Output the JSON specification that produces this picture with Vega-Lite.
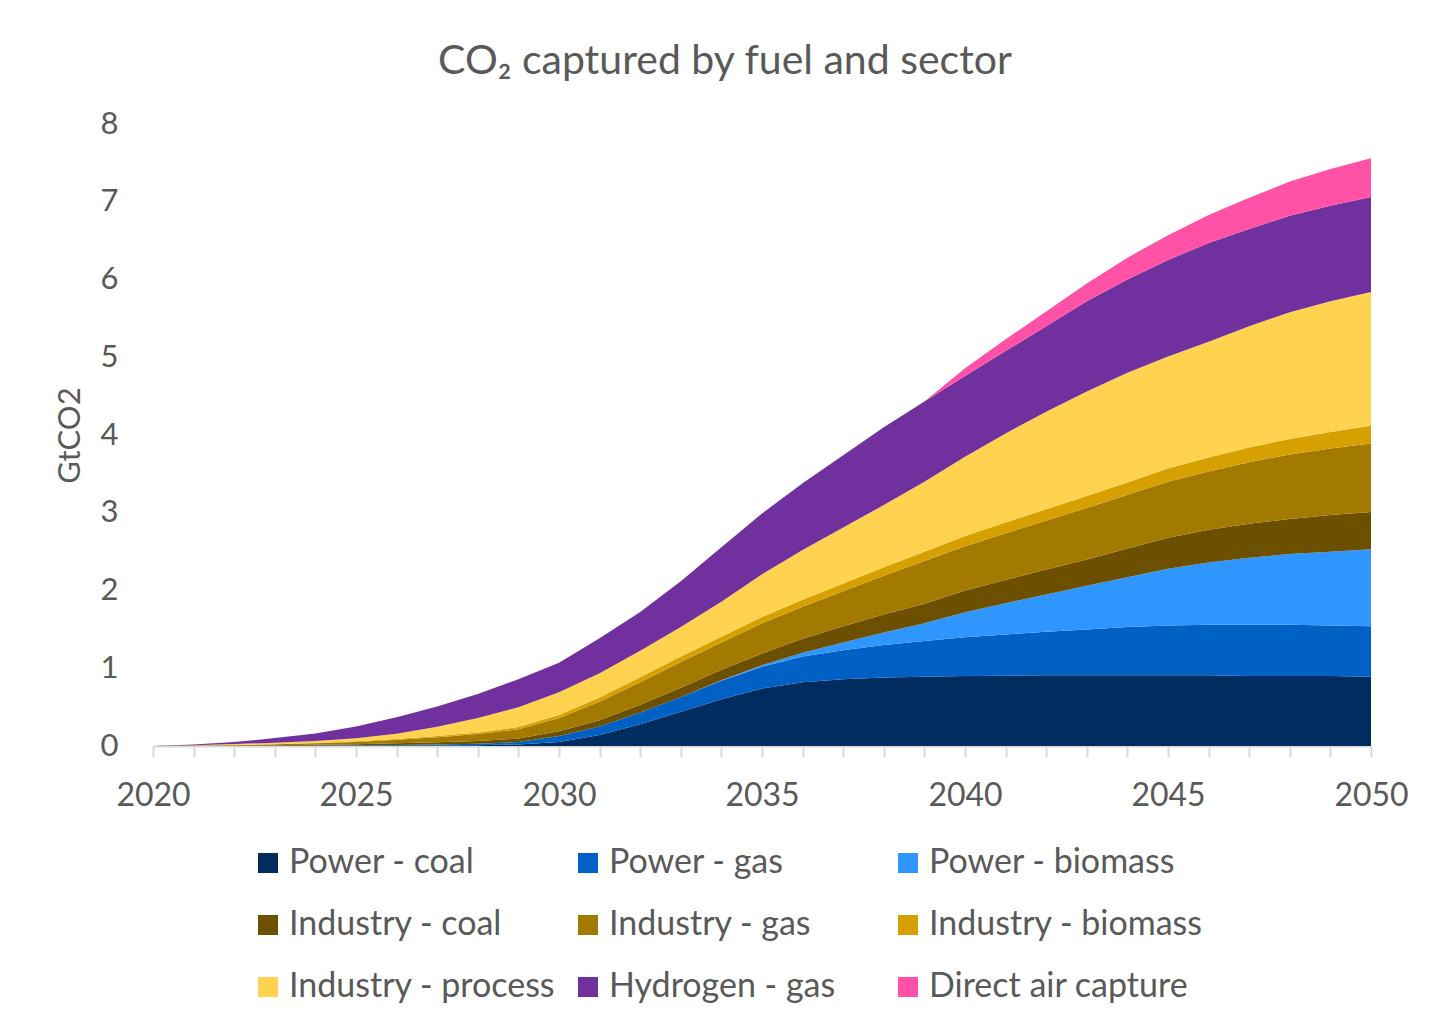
{
  "$schema": "https://vega.github.io/schema/vega-lite/v6.json",
  "autosize": {"type": "none"},
  "width": 1218,
  "height": 622,
  "padding": {"left": 153, "top": 124, "right": 66, "bottom": 278},
  "background": "white",
  "title": {
    "text": "CO₂ captured by fuel and sector",
    "font": "Lato",
    "fontSize": 41,
    "fontWeight": "normal",
    "color": "#595959",
    "anchor": "middle",
    "offset": 25,
    "dx": -37
  },
  "config": {
    "view": {"stroke": null},
    "font": "Lato"
  },
  "data": {
    "values": [
      {"year": 2020, "series": "Power - coal", "value": 0},
      {"year": 2021, "series": "Power - coal", "value": 0},
      {"year": 2022, "series": "Power - coal", "value": 0},
      {"year": 2023, "series": "Power - coal", "value": 0},
      {"year": 2024, "series": "Power - coal", "value": 0.002},
      {"year": 2025, "series": "Power - coal", "value": 0.004},
      {"year": 2026, "series": "Power - coal", "value": 0.006},
      {"year": 2027, "series": "Power - coal", "value": 0.008},
      {"year": 2028, "series": "Power - coal", "value": 0.01},
      {"year": 2029, "series": "Power - coal", "value": 0.02},
      {"year": 2030, "series": "Power - coal", "value": 0.05},
      {"year": 2031, "series": "Power - coal", "value": 0.14},
      {"year": 2032, "series": "Power - coal", "value": 0.28},
      {"year": 2033, "series": "Power - coal", "value": 0.44},
      {"year": 2034, "series": "Power - coal", "value": 0.6},
      {"year": 2035, "series": "Power - coal", "value": 0.74},
      {"year": 2036, "series": "Power - coal", "value": 0.82},
      {"year": 2037, "series": "Power - coal", "value": 0.86},
      {"year": 2038, "series": "Power - coal", "value": 0.88},
      {"year": 2039, "series": "Power - coal", "value": 0.89},
      {"year": 2040, "series": "Power - coal", "value": 0.9},
      {"year": 2041, "series": "Power - coal", "value": 0.905},
      {"year": 2042, "series": "Power - coal", "value": 0.91},
      {"year": 2043, "series": "Power - coal", "value": 0.91},
      {"year": 2044, "series": "Power - coal", "value": 0.91},
      {"year": 2045, "series": "Power - coal", "value": 0.91},
      {"year": 2046, "series": "Power - coal", "value": 0.91},
      {"year": 2047, "series": "Power - coal", "value": 0.9},
      {"year": 2048, "series": "Power - coal", "value": 0.9},
      {"year": 2049, "series": "Power - coal", "value": 0.9},
      {"year": 2050, "series": "Power - coal", "value": 0.89},

      {"year": 2020, "series": "Power - gas", "value": 0},
      {"year": 2021, "series": "Power - gas", "value": 0},
      {"year": 2022, "series": "Power - gas", "value": 0},
      {"year": 2023, "series": "Power - gas", "value": 0.002},
      {"year": 2024, "series": "Power - gas", "value": 0.003},
      {"year": 2025, "series": "Power - gas", "value": 0.005},
      {"year": 2026, "series": "Power - gas", "value": 0.008},
      {"year": 2027, "series": "Power - gas", "value": 0.012},
      {"year": 2028, "series": "Power - gas", "value": 0.018},
      {"year": 2029, "series": "Power - gas", "value": 0.03},
      {"year": 2030, "series": "Power - gas", "value": 0.08},
      {"year": 2031, "series": "Power - gas", "value": 0.11},
      {"year": 2032, "series": "Power - gas", "value": 0.15},
      {"year": 2033, "series": "Power - gas", "value": 0.19},
      {"year": 2034, "series": "Power - gas", "value": 0.24},
      {"year": 2035, "series": "Power - gas", "value": 0.28},
      {"year": 2036, "series": "Power - gas", "value": 0.33},
      {"year": 2037, "series": "Power - gas", "value": 0.37},
      {"year": 2038, "series": "Power - gas", "value": 0.42},
      {"year": 2039, "series": "Power - gas", "value": 0.46},
      {"year": 2040, "series": "Power - gas", "value": 0.5},
      {"year": 2041, "series": "Power - gas", "value": 0.53},
      {"year": 2042, "series": "Power - gas", "value": 0.56},
      {"year": 2043, "series": "Power - gas", "value": 0.59},
      {"year": 2044, "series": "Power - gas", "value": 0.62},
      {"year": 2045, "series": "Power - gas", "value": 0.64},
      {"year": 2046, "series": "Power - gas", "value": 0.65},
      {"year": 2047, "series": "Power - gas", "value": 0.66},
      {"year": 2048, "series": "Power - gas", "value": 0.66},
      {"year": 2049, "series": "Power - gas", "value": 0.65},
      {"year": 2050, "series": "Power - gas", "value": 0.65},

      {"year": 2020, "series": "Power - biomass", "value": 0},
      {"year": 2021, "series": "Power - biomass", "value": 0},
      {"year": 2022, "series": "Power - biomass", "value": 0},
      {"year": 2023, "series": "Power - biomass", "value": 0},
      {"year": 2024, "series": "Power - biomass", "value": 0},
      {"year": 2025, "series": "Power - biomass", "value": 0},
      {"year": 2026, "series": "Power - biomass", "value": 0},
      {"year": 2027, "series": "Power - biomass", "value": 0},
      {"year": 2028, "series": "Power - biomass", "value": 0},
      {"year": 2029, "series": "Power - biomass", "value": 0},
      {"year": 2030, "series": "Power - biomass", "value": 0},
      {"year": 2031, "series": "Power - biomass", "value": 0},
      {"year": 2032, "series": "Power - biomass", "value": 0},
      {"year": 2033, "series": "Power - biomass", "value": 0},
      {"year": 2034, "series": "Power - biomass", "value": 0.005},
      {"year": 2035, "series": "Power - biomass", "value": 0.02},
      {"year": 2036, "series": "Power - biomass", "value": 0.05},
      {"year": 2037, "series": "Power - biomass", "value": 0.1},
      {"year": 2038, "series": "Power - biomass", "value": 0.16},
      {"year": 2039, "series": "Power - biomass", "value": 0.23},
      {"year": 2040, "series": "Power - biomass", "value": 0.32},
      {"year": 2041, "series": "Power - biomass", "value": 0.4},
      {"year": 2042, "series": "Power - biomass", "value": 0.48},
      {"year": 2043, "series": "Power - biomass", "value": 0.56},
      {"year": 2044, "series": "Power - biomass", "value": 0.64},
      {"year": 2045, "series": "Power - biomass", "value": 0.73},
      {"year": 2046, "series": "Power - biomass", "value": 0.8},
      {"year": 2047, "series": "Power - biomass", "value": 0.86},
      {"year": 2048, "series": "Power - biomass", "value": 0.91},
      {"year": 2049, "series": "Power - biomass", "value": 0.95},
      {"year": 2050, "series": "Power - biomass", "value": 0.99},

      {"year": 2020, "series": "Industry - coal", "value": 0},
      {"year": 2021, "series": "Industry - coal", "value": 0.002},
      {"year": 2022, "series": "Industry - coal", "value": 0.004},
      {"year": 2023, "series": "Industry - coal", "value": 0.007},
      {"year": 2024, "series": "Industry - coal", "value": 0.01},
      {"year": 2025, "series": "Industry - coal", "value": 0.014},
      {"year": 2026, "series": "Industry - coal", "value": 0.02},
      {"year": 2027, "series": "Industry - coal", "value": 0.028},
      {"year": 2028, "series": "Industry - coal", "value": 0.036},
      {"year": 2029, "series": "Industry - coal", "value": 0.045},
      {"year": 2030, "series": "Industry - coal", "value": 0.06},
      {"year": 2031, "series": "Industry - coal", "value": 0.08},
      {"year": 2032, "series": "Industry - coal", "value": 0.1},
      {"year": 2033, "series": "Industry - coal", "value": 0.12},
      {"year": 2034, "series": "Industry - coal", "value": 0.135},
      {"year": 2035, "series": "Industry - coal", "value": 0.15},
      {"year": 2036, "series": "Industry - coal", "value": 0.18},
      {"year": 2037, "series": "Industry - coal", "value": 0.21},
      {"year": 2038, "series": "Industry - coal", "value": 0.23},
      {"year": 2039, "series": "Industry - coal", "value": 0.25},
      {"year": 2040, "series": "Industry - coal", "value": 0.28},
      {"year": 2041, "series": "Industry - coal", "value": 0.3},
      {"year": 2042, "series": "Industry - coal", "value": 0.32},
      {"year": 2043, "series": "Industry - coal", "value": 0.34},
      {"year": 2044, "series": "Industry - coal", "value": 0.37},
      {"year": 2045, "series": "Industry - coal", "value": 0.4},
      {"year": 2046, "series": "Industry - coal", "value": 0.42},
      {"year": 2047, "series": "Industry - coal", "value": 0.44},
      {"year": 2048, "series": "Industry - coal", "value": 0.45},
      {"year": 2049, "series": "Industry - coal", "value": 0.47},
      {"year": 2050, "series": "Industry - coal", "value": 0.48},

      {"year": 2020, "series": "Industry - gas", "value": 0},
      {"year": 2021, "series": "Industry - gas", "value": 0.003},
      {"year": 2022, "series": "Industry - gas", "value": 0.007},
      {"year": 2023, "series": "Industry - gas", "value": 0.012},
      {"year": 2024, "series": "Industry - gas", "value": 0.02},
      {"year": 2025, "series": "Industry - gas", "value": 0.03},
      {"year": 2026, "series": "Industry - gas", "value": 0.045},
      {"year": 2027, "series": "Industry - gas", "value": 0.065},
      {"year": 2028, "series": "Industry - gas", "value": 0.09},
      {"year": 2029, "series": "Industry - gas", "value": 0.12},
      {"year": 2030, "series": "Industry - gas", "value": 0.17},
      {"year": 2031, "series": "Industry - gas", "value": 0.24},
      {"year": 2032, "series": "Industry - gas", "value": 0.29},
      {"year": 2033, "series": "Industry - gas", "value": 0.33},
      {"year": 2034, "series": "Industry - gas", "value": 0.35},
      {"year": 2035, "series": "Industry - gas", "value": 0.39},
      {"year": 2036, "series": "Industry - gas", "value": 0.41},
      {"year": 2037, "series": "Industry - gas", "value": 0.45},
      {"year": 2038, "series": "Industry - gas", "value": 0.5},
      {"year": 2039, "series": "Industry - gas", "value": 0.55},
      {"year": 2040, "series": "Industry - gas", "value": 0.57},
      {"year": 2041, "series": "Industry - gas", "value": 0.6},
      {"year": 2042, "series": "Industry - gas", "value": 0.63},
      {"year": 2043, "series": "Industry - gas", "value": 0.66},
      {"year": 2044, "series": "Industry - gas", "value": 0.69},
      {"year": 2045, "series": "Industry - gas", "value": 0.72},
      {"year": 2046, "series": "Industry - gas", "value": 0.75},
      {"year": 2047, "series": "Industry - gas", "value": 0.79},
      {"year": 2048, "series": "Industry - gas", "value": 0.83},
      {"year": 2049, "series": "Industry - gas", "value": 0.855},
      {"year": 2050, "series": "Industry - gas", "value": 0.88},

      {"year": 2020, "series": "Industry - biomass", "value": 0},
      {"year": 2021, "series": "Industry - biomass", "value": 0.001},
      {"year": 2022, "series": "Industry - biomass", "value": 0.002},
      {"year": 2023, "series": "Industry - biomass", "value": 0.003},
      {"year": 2024, "series": "Industry - biomass", "value": 0.005},
      {"year": 2025, "series": "Industry - biomass", "value": 0.007},
      {"year": 2026, "series": "Industry - biomass", "value": 0.01},
      {"year": 2027, "series": "Industry - biomass", "value": 0.015},
      {"year": 2028, "series": "Industry - biomass", "value": 0.02},
      {"year": 2029, "series": "Industry - biomass", "value": 0.028},
      {"year": 2030, "series": "Industry - biomass", "value": 0.04},
      {"year": 2031, "series": "Industry - biomass", "value": 0.055},
      {"year": 2032, "series": "Industry - biomass", "value": 0.065},
      {"year": 2033, "series": "Industry - biomass", "value": 0.07},
      {"year": 2034, "series": "Industry - biomass", "value": 0.075},
      {"year": 2035, "series": "Industry - biomass", "value": 0.08},
      {"year": 2036, "series": "Industry - biomass", "value": 0.09},
      {"year": 2037, "series": "Industry - biomass", "value": 0.1},
      {"year": 2038, "series": "Industry - biomass", "value": 0.11},
      {"year": 2039, "series": "Industry - biomass", "value": 0.12},
      {"year": 2040, "series": "Industry - biomass", "value": 0.13},
      {"year": 2041, "series": "Industry - biomass", "value": 0.14},
      {"year": 2042, "series": "Industry - biomass", "value": 0.145},
      {"year": 2043, "series": "Industry - biomass", "value": 0.155},
      {"year": 2044, "series": "Industry - biomass", "value": 0.16},
      {"year": 2045, "series": "Industry - biomass", "value": 0.17},
      {"year": 2046, "series": "Industry - biomass", "value": 0.18},
      {"year": 2047, "series": "Industry - biomass", "value": 0.19},
      {"year": 2048, "series": "Industry - biomass", "value": 0.2},
      {"year": 2049, "series": "Industry - biomass", "value": 0.215},
      {"year": 2050, "series": "Industry - biomass", "value": 0.23},

      {"year": 2020, "series": "Industry - process", "value": 0},
      {"year": 2021, "series": "Industry - process", "value": 0.004},
      {"year": 2022, "series": "Industry - process", "value": 0.012},
      {"year": 2023, "series": "Industry - process", "value": 0.018},
      {"year": 2024, "series": "Industry - process", "value": 0.025},
      {"year": 2025, "series": "Industry - process", "value": 0.04},
      {"year": 2026, "series": "Industry - process", "value": 0.07},
      {"year": 2027, "series": "Industry - process", "value": 0.12},
      {"year": 2028, "series": "Industry - process", "value": 0.186},
      {"year": 2029, "series": "Industry - process", "value": 0.257},
      {"year": 2030, "series": "Industry - process", "value": 0.29},
      {"year": 2031, "series": "Industry - process", "value": 0.31},
      {"year": 2032, "series": "Industry - process", "value": 0.34},
      {"year": 2033, "series": "Industry - process", "value": 0.38},
      {"year": 2034, "series": "Industry - process", "value": 0.45},
      {"year": 2035, "series": "Industry - process", "value": 0.55},
      {"year": 2036, "series": "Industry - process", "value": 0.64},
      {"year": 2037, "series": "Industry - process", "value": 0.72},
      {"year": 2038, "series": "Industry - process", "value": 0.8},
      {"year": 2039, "series": "Industry - process", "value": 0.9},
      {"year": 2040, "series": "Industry - process", "value": 1.02},
      {"year": 2041, "series": "Industry - process", "value": 1.145},
      {"year": 2042, "series": "Industry - process", "value": 1.255},
      {"year": 2043, "series": "Industry - process", "value": 1.345},
      {"year": 2044, "series": "Industry - process", "value": 1.41},
      {"year": 2045, "series": "Industry - process", "value": 1.44},
      {"year": 2046, "series": "Industry - process", "value": 1.49},
      {"year": 2047, "series": "Industry - process", "value": 1.56},
      {"year": 2048, "series": "Industry - process", "value": 1.63},
      {"year": 2049, "series": "Industry - process", "value": 1.68},
      {"year": 2050, "series": "Industry - process", "value": 1.72},

      {"year": 2020, "series": "Hydrogen - gas", "value": 0},
      {"year": 2021, "series": "Hydrogen - gas", "value": 0.01},
      {"year": 2022, "series": "Hydrogen - gas", "value": 0.025},
      {"year": 2023, "series": "Hydrogen - gas", "value": 0.06},
      {"year": 2024, "series": "Hydrogen - gas", "value": 0.095},
      {"year": 2025, "series": "Hydrogen - gas", "value": 0.15},
      {"year": 2026, "series": "Hydrogen - gas", "value": 0.21},
      {"year": 2027, "series": "Hydrogen - gas", "value": 0.26},
      {"year": 2028, "series": "Hydrogen - gas", "value": 0.31},
      {"year": 2029, "series": "Hydrogen - gas", "value": 0.36},
      {"year": 2030, "series": "Hydrogen - gas", "value": 0.38},
      {"year": 2031, "series": "Hydrogen - gas", "value": 0.45},
      {"year": 2032, "series": "Hydrogen - gas", "value": 0.5},
      {"year": 2033, "series": "Hydrogen - gas", "value": 0.59},
      {"year": 2034, "series": "Hydrogen - gas", "value": 0.7},
      {"year": 2035, "series": "Hydrogen - gas", "value": 0.78},
      {"year": 2036, "series": "Hydrogen - gas", "value": 0.86},
      {"year": 2037, "series": "Hydrogen - gas", "value": 0.93},
      {"year": 2038, "series": "Hydrogen - gas", "value": 1.0},
      {"year": 2039, "series": "Hydrogen - gas", "value": 1.03},
      {"year": 2040, "series": "Hydrogen - gas", "value": 1.04},
      {"year": 2041, "series": "Hydrogen - gas", "value": 1.06},
      {"year": 2042, "series": "Hydrogen - gas", "value": 1.1},
      {"year": 2043, "series": "Hydrogen - gas", "value": 1.16},
      {"year": 2044, "series": "Hydrogen - gas", "value": 1.2},
      {"year": 2045, "series": "Hydrogen - gas", "value": 1.24},
      {"year": 2046, "series": "Hydrogen - gas", "value": 1.27},
      {"year": 2047, "series": "Hydrogen - gas", "value": 1.25},
      {"year": 2048, "series": "Hydrogen - gas", "value": 1.24},
      {"year": 2049, "series": "Hydrogen - gas", "value": 1.23},
      {"year": 2050, "series": "Hydrogen - gas", "value": 1.22},

      {"year": 2020, "series": "Direct air capture", "value": 0},
      {"year": 2021, "series": "Direct air capture", "value": 0},
      {"year": 2022, "series": "Direct air capture", "value": 0},
      {"year": 2023, "series": "Direct air capture", "value": 0},
      {"year": 2024, "series": "Direct air capture", "value": 0},
      {"year": 2025, "series": "Direct air capture", "value": 0},
      {"year": 2026, "series": "Direct air capture", "value": 0},
      {"year": 2027, "series": "Direct air capture", "value": 0},
      {"year": 2028, "series": "Direct air capture", "value": 0},
      {"year": 2029, "series": "Direct air capture", "value": 0},
      {"year": 2030, "series": "Direct air capture", "value": 0},
      {"year": 2031, "series": "Direct air capture", "value": 0},
      {"year": 2032, "series": "Direct air capture", "value": 0},
      {"year": 2033, "series": "Direct air capture", "value": 0},
      {"year": 2034, "series": "Direct air capture", "value": 0},
      {"year": 2035, "series": "Direct air capture", "value": 0},
      {"year": 2036, "series": "Direct air capture", "value": 0},
      {"year": 2037, "series": "Direct air capture", "value": 0},
      {"year": 2038, "series": "Direct air capture", "value": 0},
      {"year": 2039, "series": "Direct air capture", "value": 0},
      {"year": 2040, "series": "Direct air capture", "value": 0.1},
      {"year": 2041, "series": "Direct air capture", "value": 0.15},
      {"year": 2042, "series": "Direct air capture", "value": 0.19},
      {"year": 2043, "series": "Direct air capture", "value": 0.23},
      {"year": 2044, "series": "Direct air capture", "value": 0.28},
      {"year": 2045, "series": "Direct air capture", "value": 0.32},
      {"year": 2046, "series": "Direct air capture", "value": 0.36},
      {"year": 2047, "series": "Direct air capture", "value": 0.4},
      {"year": 2048, "series": "Direct air capture", "value": 0.44},
      {"year": 2049, "series": "Direct air capture", "value": 0.47},
      {"year": 2050, "series": "Direct air capture", "value": 0.5}
    ]
  },
  "transform": [
    {"window": [{"op": "row_number", "as": "stack_rank"}], "groupby": ["year"]}
  ],
  "mark": {"type": "area", "interpolate": "linear"},
  "encoding": {
    "x": {
      "field": "year",
      "type": "quantitative",
      "scale": {"domain": [2020, 2050], "nice": false, "zero": false},
      "axis": {
        "title": null,
        "values": [2020,2021,2022,2023,2024,2025,2026,2027,2028,2029,2030,2031,2032,2033,2034,2035,2036,2037,2038,2039,2040,2041,2042,2043,2044,2045,2046,2047,2048,2049,2050],
        "labelExpr": "datum.value % 5 === 0 ? format(datum.value, 'd') : ''",
        "grid": false,
        "domainColor": "#D9D9D9",
        "domainWidth": 2,
        "tickColor": "#D9D9D9",
        "tickWidth": 2,
        "tickSize": 11,
        "labelFont": "Lato",
        "labelFontSize": 32,
        "labelColor": "#595959",
        "labelPadding": 23,
        "labelFlush": false,
        "labelOverlap": false
      }
    },
    "y": {
      "field": "value",
      "type": "quantitative",
      "stack": "zero",
      "scale": {"domain": [0, 8], "nice": false},
      "axis": {
        "title": "GtCO2",
        "titleFont": "Lato",
        "titleFontSize": 31,
        "titleFontWeight": "normal",
        "titleColor": "#595959",
        "titlePadding": 14,
        "values": [0,1,2,3,4,5,6,7,8],
        "grid": false,
        "domain": false,
        "ticks": false,
        "labelFont": "Lato",
        "labelFontSize": 31,
        "labelColor": "#595959",
        "labelPadding": 35
      }
    },
    "color": {
      "field": "series",
      "type": "nominal",
      "sort": ["Power - coal", "Power - gas", "Power - biomass", "Industry - coal", "Industry - gas", "Industry - biomass", "Industry - process", "Hydrogen - gas", "Direct air capture"],
      "scale": {
        "domain": ["Power - coal", "Power - gas", "Power - biomass", "Industry - coal", "Industry - gas", "Industry - biomass", "Industry - process", "Hydrogen - gas", "Direct air capture"],
        "range": ["#002C5F", "#0060C4", "#3096FF", "#6C5000", "#A27A00", "#D6A000", "#FFD350", "#70309E", "#FF52A6"]
      },
      "legend": {
        "title": null,
        "orient": "none",
        "legendX": 98,
        "legendY": 722,
        "direction": "horizontal",
        "columns": 3,
        "gridAlign": "all",
        "symbolType": "square",
        "symbolSize": 400,
        "symbolStrokeWidth": 0,
        "symbolOffset": 0,
        "labelFont": "Lato",
        "labelFontSize": 34,
        "labelColor": "#595959",
        "labelOffset": 4,
        "labelLimit": 400,
        "columnPadding": 8,
        "rowPadding": 28
      }
    },
    "order": {"field": "stack_rank", "type": "quantitative", "sort": "ascending"}
  }
}
